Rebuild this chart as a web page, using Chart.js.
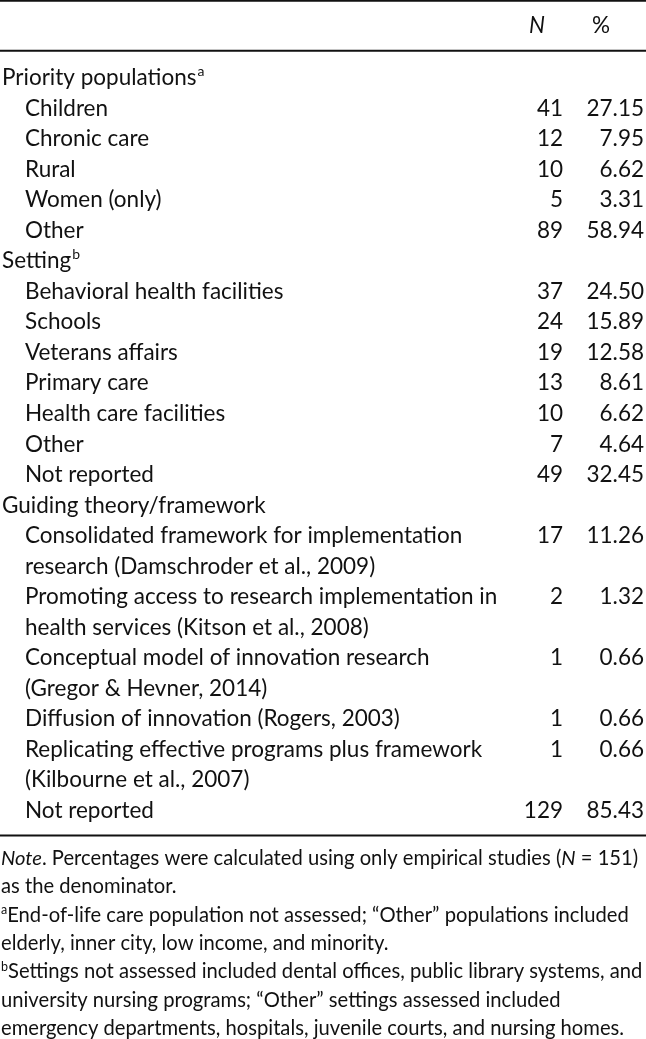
<!DOCTYPE html>
<html>
<head>
<meta charset="utf-8">
<script src="https://cdn.jsdelivr.net/npm/chart.js@4.4.1/dist/chart.umd.min.js"></script>
<style>
  html, body { margin: 0; padding: 0; background: #fff; }
  #wrap { width: 646px; height: 1039px; }
</style>
</head>
<body>
<div id="wrap"><canvas id="table" width="646" height="1039"></canvas></div>
<script>
const colHeaders = ['N', '%'];

const groupNames = ['Priority populations', 'Setting', 'Guiding theory/framework'];
const groupMarks = ['a', 'b', ''];

const priorityLabels = [['Children'], ['Chronic care'], ['Rural'], ['Women (only)'], ['Other']];
const priorityN = [41, 12, 10, 5, 89];
const priorityPct = [27.15, 7.95, 6.62, 3.31, 58.94];

const settingLabels = [['Behavioral health facilities'], ['Schools'], ['Veterans affairs'], ['Primary care'],
  ['Health care facilities'], ['Other'], ['Not reported']];
const settingN = [37, 24, 19, 13, 10, 7, 49];
const settingPct = [24.50, 15.89, 12.58, 8.61, 6.62, 4.64, 32.45];

const theoryLabels = [
  ['Consolidated framework for implementation', 'research (Damschroder et al., 2009)'],
  ['Promoting access to research implementation in', 'health services (Kitson et al., 2008)'],
  ['Conceptual model of innovation research', '(Gregor & Hevner, 2014)'],
  ['Diffusion of innovation (Rogers, 2003)'],
  ['Replicating effective programs plus framework', '(Kilbourne et al., 2007)'],
  ['Not reported']
];
const theoryN = [17, 2, 1, 1, 1, 129];
const theoryPct = [11.26, 1.32, 0.66, 0.66, 0.66, 85.43];

// note lines, split in [text, style] pieces
const noteLines = [
  [['Note', 'i'], ['. Percentages were calculated using only empirical studies ('], ['N', 'i'], [' = 151)']],
  [['as the denominator.']],
  [['a', 'sup'], ['End-of-life care population not assessed; \u201cOther\u201d populations included']],
  [['elderly, inner city, low income, and minority.']],
  [['b', 'sup'], ['Settings not assessed included dental offices, public library systems, and']],
  [['university nursing programs; \u201cOther\u201d settings assessed included']],
  [['emergency departments, hospitals, juvenile courts, and nursing homes.']]
];

const FONT = 'Lato, "Open Sans", sans-serif';
const bodySize = 22.5;
const noteSize = 20.2;
const ink = '#111';

// column anchors (pixels on the x scale)
const groupX = 2, itemX = 25, nRight = 563, pctRight = 644;

// build the rows: one y unit per printed line
const groupsItems = [
  [priorityLabels, priorityN, priorityPct],
  [settingLabels, settingN, settingPct],
  [theoryLabels, theoryN, theoryPct]
];

const labelPts = [], nPts = [], pctPts = [];
let line = 0;
groupsItems.forEach((g, gi) => {
  labelPts.push({x: groupX, y: line, t: groupNames[gi], sup: groupMarks[gi]});
  line++;
  g[0].forEach((lines, k) => {
    nPts.push({x: nRight, y: line, t: String(g[1][k])});
    pctPts.push({x: pctRight, y: line, t: g[2][k].toFixed(2)});
    lines.forEach(txt => {
      labelPts.push({x: itemX, y: line, t: txt});
      line++;
    });
  });
});
const lastLine = line - 1;

function drawRule(ctx, y, w) {
  ctx.save();
  ctx.strokeStyle = ink;
  ctx.lineWidth = w;
  ctx.beginPath();
  ctx.moveTo(0, y);
  ctx.lineTo(646, y);
  ctx.stroke();
  ctx.restore();
}

function drawPieces(ctx, pieces, x, y, size) {
  for (const [txt, style] of pieces) {
    if (style === 'sup') {
      ctx.font = (size * 0.62) + 'px ' + FONT;
      ctx.fillText(txt, x, y - size * 0.38);
    } else {
      ctx.font = (style === 'i' ? 'italic ' : '') + size + 'px ' + FONT;
      ctx.fillText(txt, x, y);
    }
    x += ctx.measureText(txt).width;
  }
}

const tableText = {
  id: 'tableText',
  afterDatasetsDraw(chart) {
    const ctx = chart.ctx;
    const ys = chart.scales.y;
    ctx.save();
    ctx.fillStyle = ink;
    ctx.textBaseline = 'alphabetic';

    // rules
    drawRule(ctx, ys.getPixelForValue(-2.76), 2);
    drawRule(ctx, ys.getPixelForValue(-1.12), 2);
    drawRule(ctx, ys.getPixelForValue(lastLine + 0.57), 2);

    // column headers
    const hy = ys.getPixelForValue(-1.70);
    ctx.font = 'italic ' + bodySize + 'px ' + FONT;
    ctx.textAlign = 'center';
    ctx.fillText(colHeaders[0], 537, hy);
    ctx.font = bodySize + 'px ' + FONT;
    ctx.textAlign = 'left';
    ctx.fillText(colHeaders[1], 592, hy);

    // cells
    chart.data.datasets.forEach((ds, di) => {
      const meta = chart.getDatasetMeta(di);
      ctx.textAlign = ds.align;
      meta.data.forEach((el, j) => {
        const p = ds.data[j];
        ctx.font = bodySize + 'px ' + FONT;
        ctx.fillText(p.t, el.x, el.y);
        if (p.sup) {
          const w = ctx.measureText(p.t).width;
          ctx.font = (bodySize * 0.62) + 'px ' + FONT;
          ctx.textAlign = 'left';
          ctx.fillText(p.sup, el.x + w + 1, el.y - 9);
          ctx.textAlign = ds.align;
        }
      });
    });

    // notes
    ctx.textAlign = 'left';
    noteLines.forEach((pieces, k) => {
      const y = ys.getPixelForValue(lastLine + 1.54 + k * 0.927);
      drawPieces(ctx, pieces, 1, y, noteSize);
    });
    ctx.restore();
  }
};

new Chart(document.getElementById('table'), {
  type: 'scatter',
  data: {
    datasets: [
      {label: 'labels', data: labelPts, align: 'left', pointRadius: 0},
      {label: 'N', data: nPts, align: 'right', pointRadius: 0},
      {label: '%', data: pctPts, align: 'right', pointRadius: 0}
    ]
  },
  options: {
    responsive: false,
    animation: false,
    events: [],
    layout: {padding: {top: 85, bottom: 1039 - 818, left: 0, right: 0}},
    scales: {
      x: {type: 'linear', min: 0, max: 646, display: false},
      y: {type: 'linear', min: 0, max: lastLine, reverse: true, display: false}
    },
    plugins: {
      legend: {display: false},
      tooltip: {enabled: false}
    }
  },
  plugins: [tableText]
});
</script>
</body>
</html>
